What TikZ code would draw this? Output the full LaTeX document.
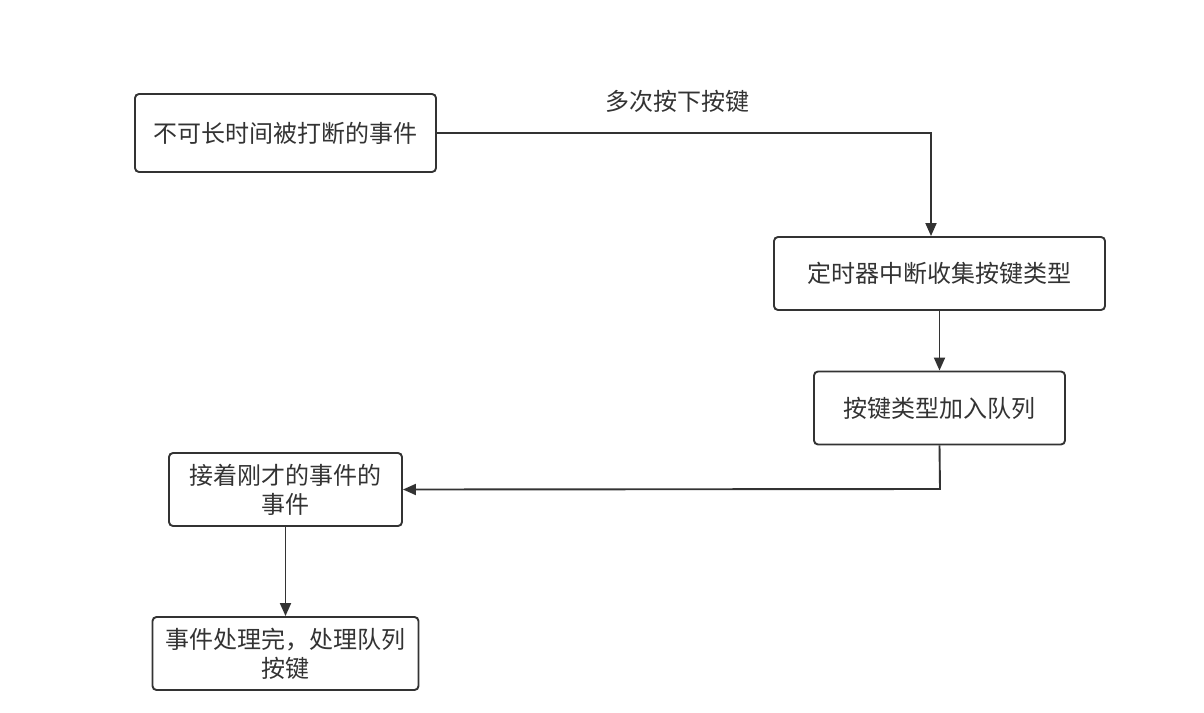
\documentclass[tikz,border=0pt]{standalone}
\usepackage{fontspec}
\newfontfamily\cjk{Noto Sans CJK SC}
\usetikzlibrary{arrows.meta}
\definecolor{ink}{HTML}{333333}
\begin{document}
\begin{tikzpicture}[x=1pt,y=-1pt,
  box/.style={draw=ink, line width=1.9pt, rounded corners=4pt, fill=white, inner sep=0pt,
    text=ink, font=\cjk\fontsize{24}{29}\selectfont, align=center},
  conn/.style={draw=ink, line width=1.9pt, -{Triangle[length=13pt,width=11pt]}},
  lbl/.style={text=ink, font=\cjk\fontsize{24}{29}\selectfont, inner sep=0pt}]
\useasboundingbox (0,0) rectangle (1204,712);
\node[box, minimum width=301pt, minimum height=78pt] (a) at (285.5,133) {不可长时间被打断的事件};
\node[box, minimum width=331pt, minimum height=73pt] (b) at (939.5,273.5) {定时器中断收集按键类型};
\node[box, minimum width=251pt, minimum height=73pt] (c) at (939.5,408) {按键类型加入队列};
\node[box, minimum width=233pt, minimum height=73pt] (d) at (285.5,489.5) {接着刚才的事件的\\事件};
\node[box, minimum width=266pt, minimum height=73pt] (e) at (285.5,653.5) {事件处理完，处理队列\\按键};
\coordinate (k1) at (931,133);
\coordinate (k3) at (940,489);
\draw[conn] (a.east) -- (k1) -- (k1 |- b.north);
\node[lbl] (l1) at (677,101) {多次按下按键};
\draw[conn] (c.north |- b.south) -- (c.north);
\draw[conn] (c.south) -- (k3) -- (d.east);
\draw[conn] (d.south) -- (e.north);
\end{tikzpicture}
\end{document}
